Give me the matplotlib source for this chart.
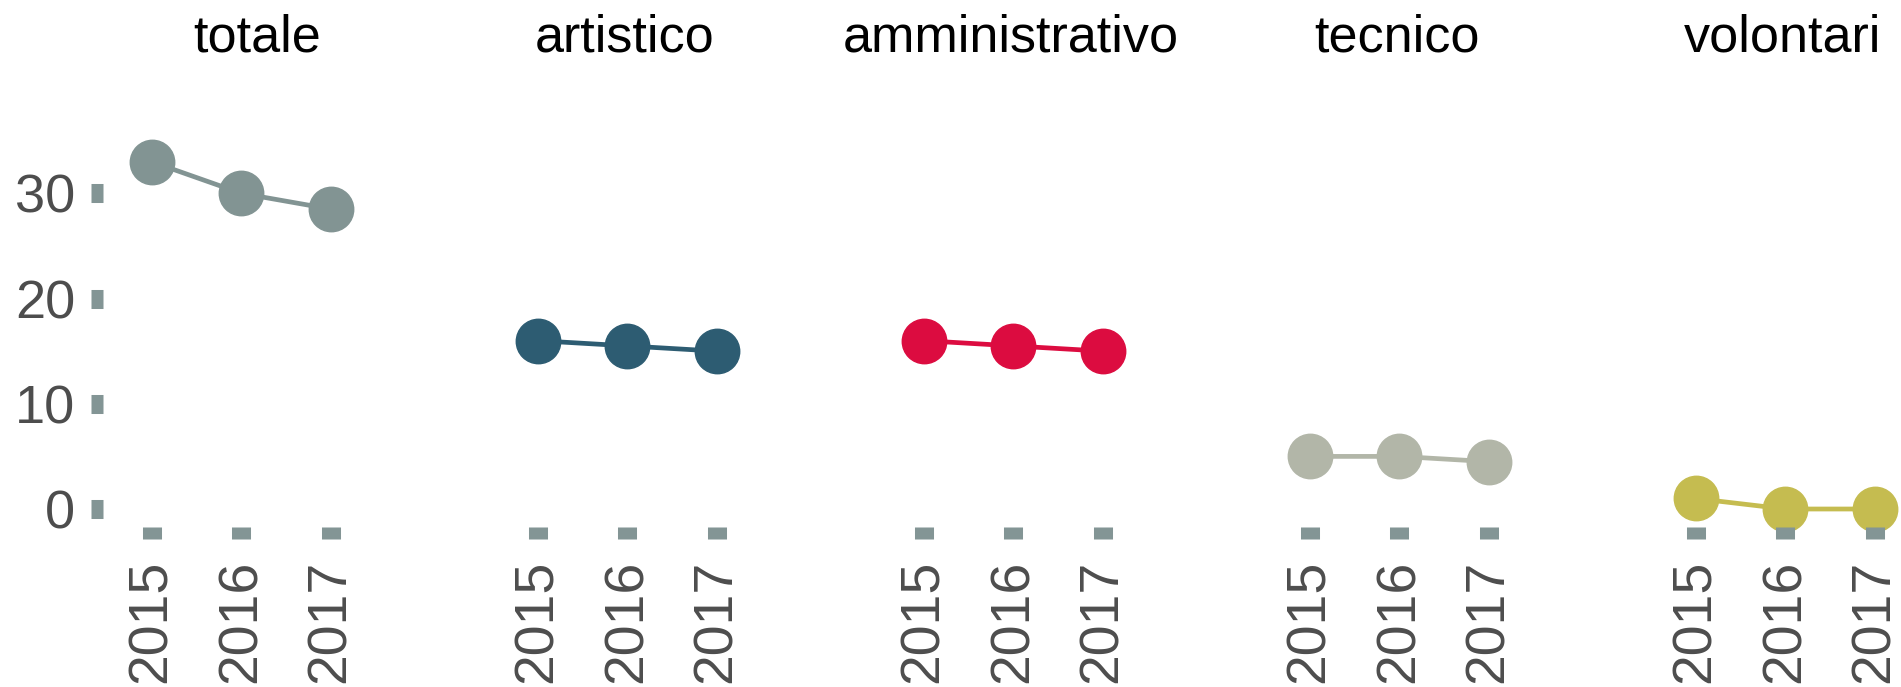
import matplotlib.pyplot as plt
from matplotlib.transforms import blended_transform_factory

years = ["2015", "2016", "2017"]
panels = ["totale", "artistico", "amministrativo", "tecnico", "volontari"]
totale = [33, 30, 28.5]
artistico = [16, 15.5, 15]
amministrativo = [16, 15.5, 15]
tecnico = [5, 5, 4.5]
volontari = [1, 0, 0]
yticks = [0, 10, 20, 30]

series = [totale, artistico, amministrativo, tecnico, volontari]
colors = ["#829493", "#2d5c72", "#dc0c40", "#b2b6a8", "#c5bc50"]
tick_color = "#839595"
label_color = "#4d4d4d"

W, H = 1901, 687
fig = plt.figure(figsize=(W / 100, H / 100), dpi=100)
plt.rcParams["font.family"] = ["Liberation Sans", "DejaVu Sans"]

# panel geometry in pixels
left0, step, width = 103, 386, 255
top, bottom = 100, 527

for k, (name, vals, col) in enumerate(zip(panels, series, colors)):
    ax = fig.add_axes([(left0 + k * step) / W, 1 - bottom / H,
                       width / W, (bottom - top) / H])
    xs = range(len(years))
    ax.plot(xs, vals, color=col, lw=3.4, marker="o", ms=32,
            mec=col, clip_on=False, zorder=2)
    ax.set_xlim(-0.543, 2.3)
    ax.set_ylim(-1.71, 38.87)
    for s in ax.spines.values():
        s.set_visible(False)
    ax.set_axisbelow(False)
    ax.set_xticks(list(xs))
    ax.set_xticklabels(years, rotation=90, fontsize=40, color=label_color)
    ax.tick_params(axis="x", length=8.6, width=13.7, color=tick_color, pad=15)
    if k == 0:
        ax.set_yticks(yticks)
        ax.set_yticklabels([str(v) for v in yticks], fontsize=39, color=label_color)
        ax.tick_params(axis="y", length=8.6, width=13.7, color=tick_color, pad=11.5)
    else:
        ax.set_yticks([])
    tx = 1.17 if k == 0 else 0.97
    trans = blended_transform_factory(ax.transData, fig.transFigure)
    ax.text(tx, 1 - 52 / H, name, transform=trans, ha="center", va="baseline",
            fontsize=37.5, color="black")

fig.savefig("out.png", dpi=100)
